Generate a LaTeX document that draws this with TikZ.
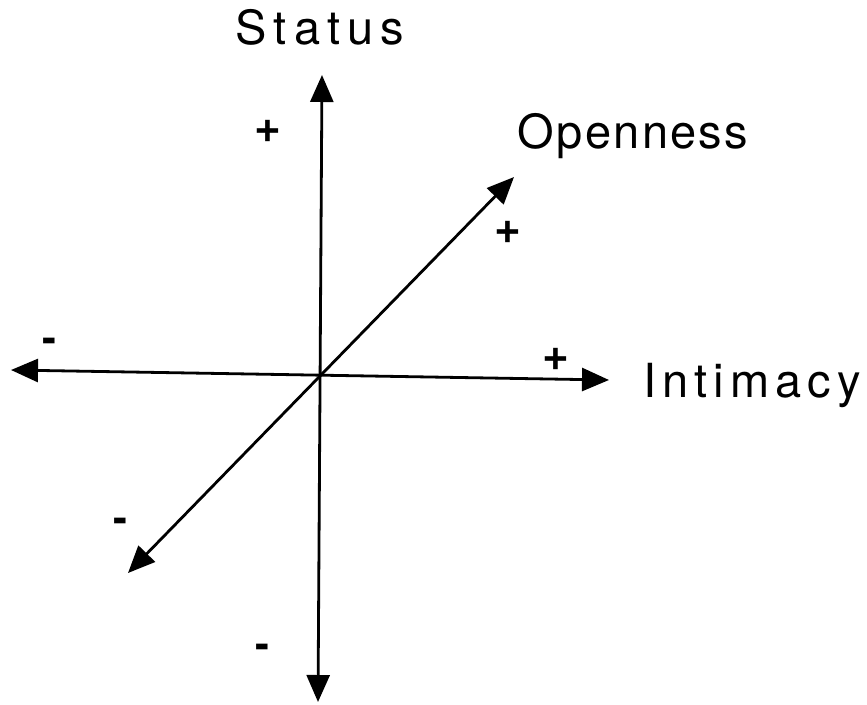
\documentclass[tikz,border=0pt]{standalone}
\usepackage{fontspec}
\setmainfont{TeX Gyre Heros}
\usetikzlibrary{arrows.meta}

\tikzset{
  axis/.style={line width=2.8pt,
    {Triangle[length=27pt,width=23pt]}-{Triangle[length=27pt,width=23pt]}},
  axislabel/.style={font=\fontsize{47}{52}\selectfont, inner sep=0pt},
  plussign/.style={font=\bfseries\fontsize{46}{48}\selectfont, inner sep=0pt},
  minussign/.style={font=\bfseries\fontsize{42}{44}\selectfont, inner sep=0pt},
}

\begin{document}
\begin{tikzpicture}[x=1pt,y=-1pt]
  \useasboundingbox (0,0) rectangle (867,704);
  % axis end points
  \coordinate (statusUp) at (322,75);
  \coordinate (statusDown) at (318,702);
  \coordinate (intimacyLeft) at (11,370);
  \coordinate (intimacyRight) at (609,380);
  \coordinate (opennessUp) at (514,177);
  \coordinate (opennessDown) at (128,573);
  % axes
  \draw[axis] (statusDown) -- (statusUp);
  \draw[axis] (intimacyLeft) -- (intimacyRight);
  \draw[axis] (opennessDown) -- (opennessUp);
  % axis names
  \node[axislabel, anchor=base] (status) at (320,44)
    {\addfontfeature{LetterSpace=15}Status};
  \node[axislabel, anchor=base] (openness) at (633,148)
    {\addfontfeature{LetterSpace=5}Openness};
  \node[axislabel, anchor=base] (intimacy) at (752,397)
    {\addfontfeature{LetterSpace=13}Intimacy};
  % signs
  \node[plussign] (statusPlus) at (268,131) {+};
  \node[plussign] (opennessPlus) at (508,232) {+};
  \node[plussign] (intimacyPlus) at (556,359) {+};
  \node[minussign] (intimacyMinus) at (49,345) {-};
  \node[minussign] (opennessMinus) at (120,525) {-};
  \node[minussign] (statusMinus) at (262,651) {-};
\end{tikzpicture}
\end{document}
